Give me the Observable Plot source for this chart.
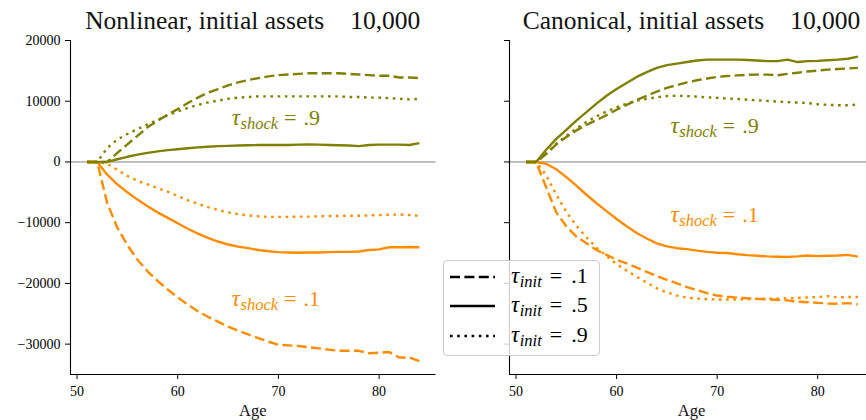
<!DOCTYPE html>
<html><head><meta charset="utf-8">
<script src="https://cdn.jsdelivr.net/npm/d3@7"></script>
<script src="https://cdn.jsdelivr.net/npm/@observablehq/plot@0.6"></script>
<style>
body{margin:0;background:#fff;}
#wrap{position:relative;width:866px;height:420px;overflow:hidden;font-family:"Liberation Serif","DejaVu Serif",serif;}
#wrap > svg{position:absolute;top:0;}
</style></head><body><div id="wrap"></div>
<script>
// ---------- data ----------
const ages = [51,52,53,54,55,56,57,58,59,60,61,62,63,64,65,66,67,68,69,70,71,72,73,74,75,76,77,78,79,80,81,82,83,84];
const xTicks = [50,60,70,80];
const yTicks = [-30000,-20000,-10000,0,10000,20000];
const xDomain = [49.35, 85.65];
const yDomain = [-35000, 20000];
const panelTitles = ["Nonlinear, initial assets", "Canonical, initial assets"];
const titleAmount = "10,000";
const xLabel = "Age";
const initLabels = [".1", ".5", ".9"];
const shockLabels = [".9", ".1"];

// Nonlinear panel (tau_shock .9 = olive, .1 = orange)
const nlShock9Init1 = [0,0,0,1500,2900,4300,5700,6800,7800,8700,9700,10600,11400,12000,12600,13100,13500,13800,14100,14300,14400,14500,14600,14600,14600,14600,14500,14400,14300,14200,14200,13900,13900,13800];
const nlShock9Init5 = [0,0,0,450,850,1200,1500,1750,1950,2100,2250,2400,2500,2600,2650,2700,2750,2780,2800,2800,2800,2850,2900,2850,2800,2750,2700,2600,2800,2850,2850,2850,2800,3100];
const nlShock9Init9 = [0,0,2300,3700,4600,5400,6200,6900,7700,8300,8900,9400,9800,10100,10400,10600,10700,10800,10800,10800,10800,10800,10800,10800,10800,10800,10700,10700,10600,10600,10500,10400,10300,10400];
const nlShock1Init1 = [0,0,-6800,-10800,-13700,-16100,-18000,-19600,-21000,-22300,-23500,-24600,-25500,-26300,-27100,-27800,-28400,-29000,-29600,-30100,-30200,-30300,-30500,-30700,-30900,-31100,-31100,-31100,-31500,-31400,-31300,-32200,-32200,-32800];
const nlShock1Init5 = [0,0,-2100,-3700,-5000,-6200,-7300,-8300,-9200,-10100,-11000,-11800,-12500,-13100,-13600,-13950,-14200,-14500,-14700,-14850,-14900,-14950,-14900,-14900,-14850,-14800,-14800,-14750,-14500,-14400,-14050,-14050,-14000,-14050];
const nlShock1Init9 = [0,0,-300,-1300,-2300,-3100,-3700,-4300,-4900,-5600,-6300,-6900,-7450,-7900,-8300,-8600,-8800,-8950,-9050,-9050,-9050,-9000,-9000,-8950,-8900,-8900,-8850,-8850,-8800,-8750,-8700,-8650,-8750,-8850];

// Canonical panel
const cnShock9Init1 = [0,0,1300,2900,4100,5200,6100,6900,7700,8600,9400,10200,10900,11600,12200,12650,13100,13450,13750,14000,14150,14250,14350,14380,14380,14270,14500,14700,14900,15050,15200,15300,15400,15500];
const cnShock9Init5 = [0,0,2000,3800,5300,6800,8200,9600,10900,12000,13000,14000,14800,15500,15950,16200,16450,16700,16850,16850,16850,16850,16800,16700,16600,16600,16850,16450,16600,16650,16750,16850,17000,17350];
const cnShock9Init9 = [0,0,1400,3000,4300,5500,6600,7500,8300,9000,9600,10100,10400,10650,10850,10900,10850,10750,10650,10550,10450,10380,10250,10150,10050,9950,9850,9780,9700,9500,9400,9350,9350,9450];
const cnShock1Init1 = [0,0,-4200,-8300,-10600,-12300,-13400,-14500,-15300,-16100,-16700,-17400,-18100,-18800,-19400,-20000,-20600,-21100,-21600,-22000,-22200,-22350,-22450,-22550,-22630,-22700,-22800,-23000,-23100,-23200,-23300,-23350,-23250,-23450];
const cnShock1Init5 = [0,0,-300,-1200,-2500,-3900,-5400,-6800,-8100,-9400,-10600,-11700,-12600,-13400,-13900,-14200,-14350,-14600,-14800,-14950,-15000,-15200,-15350,-15450,-15550,-15600,-15650,-15550,-15400,-15500,-15450,-15400,-15300,-15600];
const cnShock1Init9 = [0,0,-2200,-5400,-8200,-10500,-12400,-14100,-15500,-16800,-17900,-18900,-19900,-20800,-21500,-22000,-22350,-22500,-22600,-22650,-22650,-22650,-22600,-22550,-22500,-22500,-22450,-22400,-22300,-22250,-22100,-22300,-22250,-22250];

// ---------- styles / layout ----------
const shockColor = {".9": "#808000", ".1": "#ff8c00"};
const initDash = {".1": "10,4.4", ".5": undefined, ".9": "2.6,4.6"};
const LW = 2.4;
const FONT = "Liberation Serif, DejaVu Serif, serif";

function rows(values, shock, init) {
  return ages.map((a, i) => ({age: a, value: values[i], shock, init}));
}

const panels = [
  {
    title: panelTitles[0], showY: true, left: 0, width: 440, marginLeft: 70, marginRight: 4.5,
    series: [
      rows(nlShock1Init1, ".1", ".1"), rows(nlShock1Init5, ".1", ".5"), rows(nlShock1Init9, ".1", ".9"),
      rows(nlShock9Init1, ".9", ".1"), rows(nlShock9Init5, ".9", ".5"), rows(nlShock9Init9, ".9", ".9")
    ],
    annot: [{shock: ".9", x: 69.8, y: 6000}, {shock: ".1", x: 69.8, y: -23800}]
  },
  {
    title: panelTitles[1], showY: false, left: 430, width: 444, marginLeft: 79, marginRight: 0,
    series: [
      rows(cnShock1Init1, ".1", ".1"), rows(cnShock1Init5, ".1", ".5"), rows(cnShock1Init9, ".1", ".9"),
      rows(cnShock9Init1, ".9", ".1"), rows(cnShock9Init5, ".9", ".5"), rows(cnShock9Init9, ".9", ".9")
    ],
    annot: [{shock: ".9", x: 69.8, y: 4750}, {shock: ".1", x: 69.8, y: -10000}]
  }
];

const wrap = document.getElementById("wrap");
const overlay = d3.create("svg").attr("width", 866).attr("height", 420)
  .style("left", "0px").style("pointer-events", "none")
  .style("font-family", FONT);

// math-like label: tau with italic subscript, then "= value"
function tauText(sel, x, y, sub, val, color, anchor, gap) {
  const t = sel.append("text").attr("x", x).attr("y", y).attr("fill", color)
    .attr("text-anchor", anchor)
    .style("font-size", "22px").style("font-family", FONT);
  t.append("tspan").style("font-style", "italic").style("font-size", "23px").text("τ");
  t.append("tspan").style("font-style", "italic").style("font-size", "16.5px").attr("dy", 4).attr("dx", 0.5).text(sub);
  t.append("tspan").attr("dy", -4).attr("dx", gap).text("=");
  t.append("tspan").attr("dx", gap + 1).text(val);
}

for (const p of panels) {
  const marks = [
    Plot.ruleY([0], {stroke: "#808080", strokeWidth: 1}),
    ...p.series.map(s => Plot.line(s, {
      x: "age", y: "value",
      stroke: shockColor[s[0].shock], strokeWidth: LW,
      strokeDasharray: initDash[s[0].init], strokeLinecap: "butt", strokeLinejoin: "round"
    })),
    Plot.ruleX([xDomain[0]], {stroke: "black", strokeWidth: 1.1}),
    Plot.ruleY([yDomain[0]], {stroke: "black", strokeWidth: 1.1}),
    Plot.axisX({ticks: xTicks, tickSize: 5, tickPadding: 7, tickFormat: d3.format("d"), label: null, fontSize: 14}),
    Plot.axisY({ticks: yTicks, tickSize: 5, tickPadding: 5, tickFormat: p.showY ? d3.format("d") : () => "", label: null, fontSize: 14})
  ];
  const chart = Plot.plot({
    width: p.width, height: 420,
    marginTop: 40, marginBottom: 46, marginLeft: p.marginLeft, marginRight: p.marginRight,
    x: {domain: xDomain},
    y: {domain: yDomain},
    style: {fontFamily: FONT, fontSize: "14px", color: "black", background: "transparent", overflow: "visible"},
    marks
  });
  chart.style.position = "absolute";
  chart.style.left = p.left + "px";
  chart.style.top = "0px";
  wrap.appendChild(chart);

  const sx = chart.scale("x"), sy = chart.scale("y");
  const cx = p.left + (sx.range[0] + sx.range[1]) / 2;
  const tt = overlay.append("text").attr("x", cx).attr("y", 29).attr("text-anchor", "middle")
    .style("font-size", "25.5px").attr("fill", "#111");
  tt.append("tspan").text(p.title);
  tt.append("tspan").attr("dx", 26).text(titleAmount);
  overlay.append("text").attr("x", cx).attr("y", 416).attr("text-anchor", "middle")
    .style("font-size", "16.5px").attr("fill", "#111").text(xLabel);
  const svgSel = d3.select(chart);
  for (const a of p.annot) {
    tauText(svgSel, sx.apply(a.x), sy.apply(a.y), "shock", a.shock, shockColor[a.shock], "middle", 6);
  }
}
wrap.appendChild(overlay.node());

// legend
const leg = d3.create("div")
  .style("position", "absolute").style("left", "443px").style("top", "260px")
  .style("width", "155px").style("height", "94px")
  .style("border", "1px solid #cccccc").style("border-radius", "4px")
  .style("background", "rgba(255,255,255,0.8)");
const lsvg = leg.append("svg").attr("width", 155).attr("height", 94)
  .style("position", "absolute").style("left", "0px").style("top", "0px");
const rowY = [16, 45, 75];
initLabels.forEach((lab, i) => {
  lsvg.append("line").attr("x1", 6).attr("x2", 51).attr("y1", rowY[i]).attr("y2", rowY[i])
    .attr("stroke", "black").attr("stroke-width", LW)
    .attr("stroke-dasharray", initDash[lab] || null);
  tauText(lsvg, 67, rowY[i] + 6, "init", lab, "black", "start", 8);
});
wrap.appendChild(leg.node());
</script></body></html>
